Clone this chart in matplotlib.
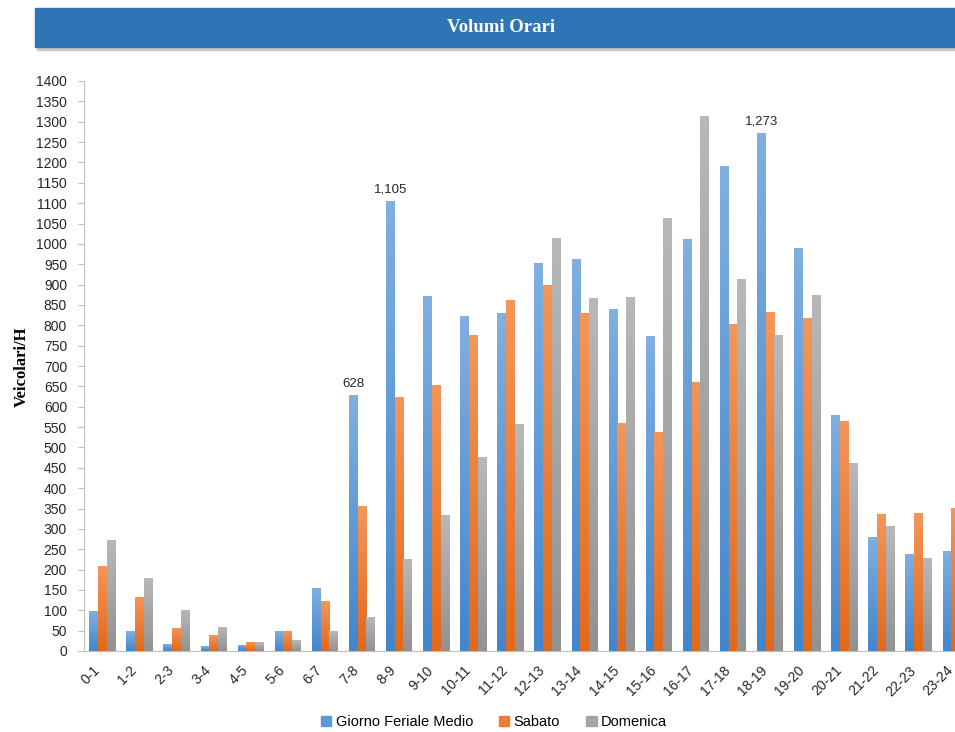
import numpy as np
import matplotlib.pyplot as plt
from matplotlib.colors import LinearSegmentedColormap
from matplotlib.patches import Rectangle, Patch

# data
fasce = ['0-1', '1-2', '2-3', '3-4', '4-5', '5-6', '6-7', '7-8', '8-9', '9-10',
         '10-11', '11-12', '12-13', '13-14', '14-15', '15-16', '16-17', '17-18',
         '18-19', '19-20', '20-21', '21-22', '22-23', '23-24']
feriale = [98, 49, 17, 12, 15, 49, 155, 628, 1105, 872, 823, 830, 952, 962, 840,
           774, 1011, 1191, 1273, 990, 579, 281, 239, 246]
sabato = [209, 133, 57, 39, 22, 49, 123, 356, 624, 653, 776, 862, 899, 830, 560,
          537, 661, 803, 833, 818, 565, 337, 339, 351]
domenica = [273, 179, 101, 59, 22, 27, 49, 84, 226, 334, 477, 557, 1014, 867, 869,
            1063, 1314, 913, 776, 874, 462, 307, 229, 240]
serie = ['Giorno Feriale Medio', 'Sabato', 'Domenica']
etichette = {7: '628', 8: '1,105', 18: '1,273'}  # data labels on feriale

# (top, bottom, legend) colours for the gradients
colori = [('#80afe0', '#4386cc', '#5b9bd5'),
          ('#f4965a', '#e2691a', '#ed7d31'),
          ('#b8b8b8', '#929292', '#a5a5a5')]

plt.rcParams['font.family'] = 'Liberation Sans'

fig = plt.figure(figsize=(9.55, 7.32), dpi=100)

# title banner (runs off the right edge like the original)
fig.patches.append(Rectangle((37 / 955, 1 - 50 / 732), 1.0, 39 / 732,
                             transform=fig.transFigure, color='#c8c8c8', zorder=0))
fig.patches.append(Rectangle((35 / 955, 1 - 47 / 732), 1.0, 39 / 732,
                             transform=fig.transFigure, color='#2e75b6', zorder=1))
fig.text(501 / 955, 1 - 27 / 732, 'Volumi Orari', color='white', fontsize=13.5,
         fontweight='bold', family='Liberation Serif', ha='center', va='center')

# plot area extends beyond the right border (chart is cropped in the reference)
ax = fig.add_axes([83.75 / 955, 81 / 732, 890.4 / 955, 570 / 732])

x = np.arange(len(fasce))
w = 0.234
for k, vals in enumerate([feriale, sabato, domenica]):
    top, bot, _ = colori[k]
    cmap = LinearSegmentedColormap.from_list('g%d' % k, [bot, top])
    bars = ax.bar(x + (k - 1) * w, vals, w, color=colori[k][2], linewidth=0, zorder=2)
    for b in bars:
        x0, y0 = b.get_x(), b.get_y()
        im = ax.imshow(np.linspace(0, 1, 64).reshape(-1, 1), cmap=cmap, origin='lower',
                       extent=[x0, x0 + b.get_width(), y0, y0 + b.get_height()],
                       aspect='auto', zorder=3)
        im.set_clip_path(b)

for i, txt in etichette.items():
    ax.annotate(txt, (x[i] - w, feriale[i]), xytext=(0, 4), textcoords='offset points',
                ha='center', va='bottom', fontsize=9.5, color='#262626')

ax.set_xlim(-0.5, len(fasce) - 0.5)
ax.set_ylim(0, 1400)
ax.set_yticks(np.arange(0, 1401, 50))
ax.set_xticks(x)
ax.set_xticklabels(fasce, rotation=45, ha='right', va='bottom', rotation_mode='anchor')
ax.tick_params(axis='x', length=0, pad=16, labelsize=10, labelcolor='#262626')
ax.tick_params(axis='y', length=4, color='#bfbfbf', pad=8, labelsize=10,
               labelcolor='#262626')
for s in ['top', 'right']:
    ax.spines[s].set_visible(False)
ax.spines['left'].set_color('#bfbfbf')
ax.spines['bottom'].set_color('#bfbfbf')

fig.text(22 / 955, 1 - 367 / 732, 'Veicolari/H', rotation=90, ha='center', va='center',
         fontsize=12, fontweight='bold', family='Liberation Serif')

handles = [Patch(color=c[2]) for c in colori]
fig.legend(handles, serie, loc='center', bbox_to_anchor=(494 / 955, 10 / 732), ncol=3,
           frameon=False, fontsize=10.5, handlelength=0.7, handleheight=0.7,
           handletextpad=0.3, columnspacing=1.8)

fig.savefig('out.png', dpi=100)
